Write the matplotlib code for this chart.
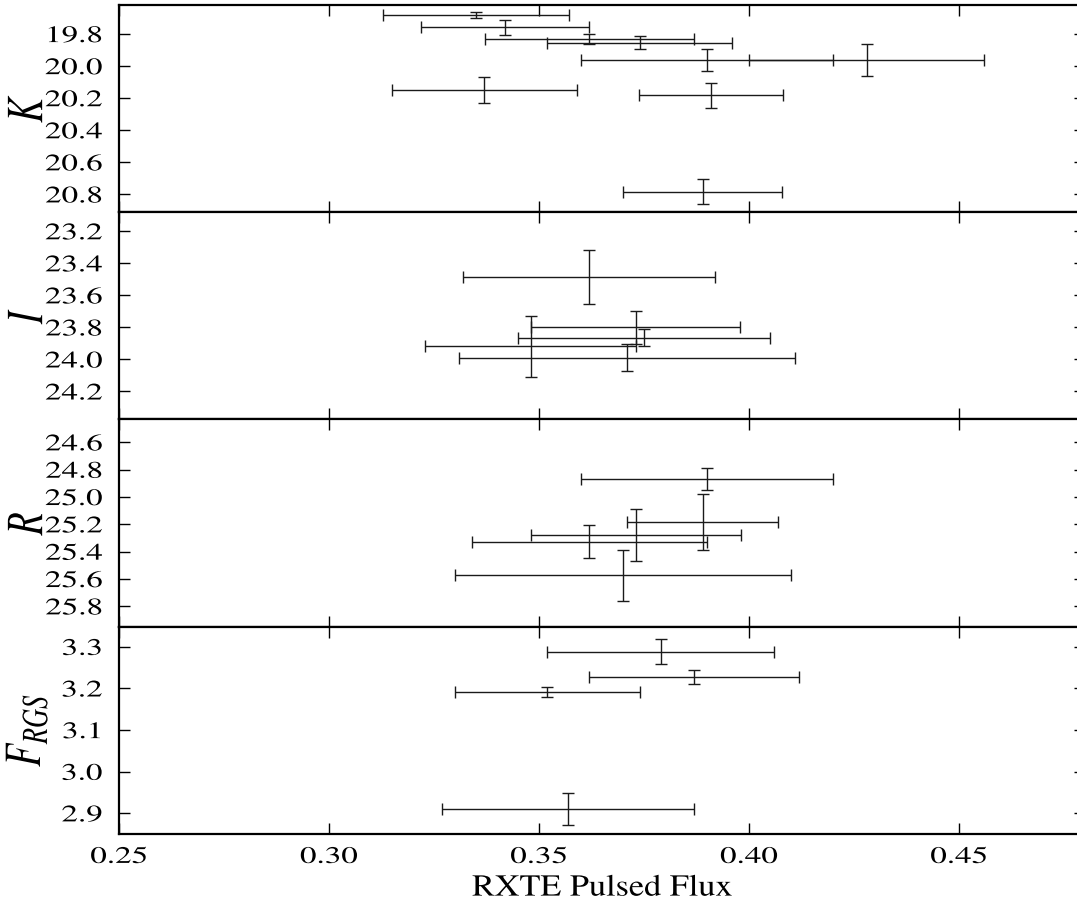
import numpy as np
import matplotlib
matplotlib.use("Agg")
import matplotlib.pyplot as plt
from matplotlib.patheffects import AbstractPathEffect
from matplotlib.transforms import Affine2D
from matplotlib.path import Path

# ---------------- data ----------------
# K band
k_x    = [0.335, 0.342, 0.362, 0.374, 0.390, 0.428, 0.391, 0.337, 0.389]
k_xerr = [0.0221, 0.020, 0.0249, 0.022, 0.030, 0.028, 0.0171, 0.0221, 0.0189]
k_y    = [19.683, 19.760, 19.833, 19.854, 19.965, 19.965, 20.184, 20.150, 20.783]
k_yerr = [0.019, 0.049, 0.031, 0.041, 0.069, 0.099, 0.080, 0.080, 0.080]

# I band
i_x    = [0.362, 0.373, 0.375, 0.348, 0.371]
i_xerr = [0.030, 0.0249, 0.030, 0.0251, 0.040]
i_y    = [23.488, 23.800, 23.865, 23.920, 23.990]
i_yerr = [0.167, 0.104, 0.055, 0.188, 0.084]

# R band
r_x    = [0.390, 0.389, 0.373, 0.362, 0.370]
r_xerr = [0.030, 0.018, 0.025, 0.028, 0.040]
r_y    = [24.871, 25.184, 25.279, 25.327, 25.575]
r_yerr = [0.082, 0.206, 0.193, 0.121, 0.184]

# RGS flux
f_x    = [0.379, 0.387, 0.352, 0.357]
f_xerr = [0.027, 0.025, 0.022, 0.030]
f_y    = [3.288, 3.228, 3.191, 2.9105]
f_yerr = [0.0295, 0.0168, 0.0128, 0.039]

ylabels = ["$K$", "$I$", "$R$", "$F_{RGS}$"]
k_ticks = [19.8, 20.0, 20.2, 20.4, 20.6, 20.8]
i_ticks = [23.2, 23.4, 23.6, 23.8, 24.0, 24.2]
r_ticks = [24.6, 24.8, 25.0, 25.2, 25.4, 25.6, 25.8]
f_ticks = [2.9, 3.0, 3.1, 3.2, 3.3]
x_ticks = [0.25, 0.30, 0.35, 0.40, 0.45]
xlabel = "RXTE Pulsed Flux"

# ---------------- style ----------------
plt.rcParams["font.family"] = ["STIXGeneral", "DejaVu Serif"]
plt.rcParams["mathtext.fontset"] = "stix"

S = 1.4  # horizontal stretch of the lettering in the reference


class Stretch(AbstractPathEffect):
    """Stretch glyphs along one glyph axis around an anchor."""

    def __init__(self, s, anchor="center", axis=0):
        super().__init__()
        self.s, self.anchor, self.axis = s, anchor, axis

    def draw_path(self, renderer, gc, tpath, affine, rgbFace=None):
        v = tpath.vertices
        if v is None or len(v) == 0:
            renderer.draw_path(gc, tpath, affine, rgbFace)
            return
        if tpath.codes is not None:
            m = tpath.codes != Path.CLOSEPOLY
            vv = v[m] if m.any() else v
        else:
            vv = v
        col = vv[:, self.axis]
        lo, hi = float(np.min(col)), float(np.max(col))
        a = {"low": lo, "high": hi, "center": 0.5 * (lo + hi)}[self.anchor]
        if self.axis == 0:
            t = Affine2D().translate(-a, 0).scale(self.s, 1).translate(a, 0)
        else:
            t = Affine2D().translate(0, -a).scale(1, self.s).translate(0, a)
        renderer.draw_path(gc, tpath, t + affine, rgbFace)


fig = plt.figure(figsize=(10.77, 9.18), dpi=100)
gs = fig.add_gridspec(4, 1, left=119 / 1077, right=1085 / 1077,
                      top=1 - 4.7 / 918, bottom=1 - 834 / 918, hspace=0)
axes = [fig.add_subplot(gs[i]) for i in range(4)]

panels = [
    (k_x, k_xerr, k_y, k_yerr, k_ticks, (20.911, 19.618)),
    (i_x, i_xerr, i_y, i_yerr, i_ticks, (24.375, 23.081)),
    (r_x, r_xerr, r_y, r_yerr, r_ticks, (25.95, 24.433)),
    (f_x, f_xerr, f_y, f_yerr, f_ticks, (2.850, 3.348)),
]

for ax, (x, xe, y, ye, yt, yl), lab in zip(axes, panels, ylabels):
    ax.errorbar(x, y, xerr=xe, yerr=ye, fmt="none", ecolor="#1a1a1a",
                elinewidth=1.0, capsize=4, capthick=1.0)
    ax.set_xlim(0.25, 0.48)
    ax.set_xticks(x_ticks)
    ax.set_ylim(*yl)
    ax.set_yticks(yt)
    ax.tick_params(axis="both", which="major", direction="in", length=8,
                   width=1.0, top=True, right=True, labelsize=17, pad=9)
    ax.tick_params(axis="y", pad=12)
    for sp in ax.spines.values():
        sp.set_linewidth(1.6)
    if ax is not axes[-1]:
        ax.tick_params(labelbottom=False)
    ax.set_ylabel(lab, fontsize=27)
    ax.yaxis.set_label_coords(-0.071, 0.5)

axes[-1].set_xticklabels([f"{v:.2f}" for v in x_ticks])
axes[-1].set_xlabel(xlabel, fontsize=22, labelpad=5)

fig.canvas.draw()
for ax in axes:
    ax.set_yticklabels([f"{v:.1f}" for v in ax.get_yticks()])
    for t in ax.yaxis.get_major_ticks():
        t.label1.set_path_effects([Stretch(S, "high", 0)])
    ax.yaxis.label.set_path_effects([Stretch(S, "low", 1)])
for t in axes[-1].xaxis.get_major_ticks():
    t.label1.set_path_effects([Stretch(S, "center", 0)])
axes[-1].xaxis.label.set_path_effects([Stretch(1.12, "center", 0)])

fig.savefig("out.png", dpi=100)
